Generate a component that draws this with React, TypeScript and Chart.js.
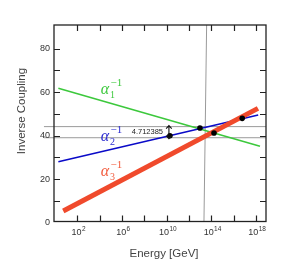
import React, { useEffect, useRef } from 'react';
import { Chart, registerables } from 'chart.js';
Chart.register(...registerables);

// log10(E / GeV) values and inverse couplings
const majorLogTicks = [2, 6, 10, 14, 18];
const minorLogTicks = [2, 4, 6, 8, 10, 12, 14, 16, 18];
const majorCouplingTicks = [0, 20, 40, 60, 80];
const minorCouplingTicks = [10, 20, 30, 40, 50, 60, 70, 80];

const alpha1Log = [0.29, 18.36];
const alpha1Inv = [61.7, 35.1];
const alpha2Log = [0.29, 18.2];
const alpha2Inv = [28.0, 49.4];
const alpha3Log = [0.73, 18.18];
const alpha3Inv = [5.3, 52.5];

const crossLog = [12.98, 14.24, 16.77, 10.29];
const crossInv = [43.5, 41.2, 47.9, 39.9];

const refLineLog = [-1.0, 18.9];
const refLineInv = [44.1, 39.0];
const vLineLog = [13.58, 13.34];
const vLineInv = [90.8, 0.5];

const labelNames = ['1', '2', '3'];
const labelLog = [4.47, 4.47, 4.47];
const labelInv = [60.9, 39.3, 23.3];
const labelColors = ['#3cc83c', '#2a2ad0', '#f25a3c'];

const gapText = '4.712385';
const gapTextLog = 9.67;
const gapTextInv = 41.6;
const gapArrowLog = 10.2;

const X_MIN = -0.1, X_MAX = 18.9, Y_MIN = 0.5, Y_MAX = 90.8;

const pts = (xs: number[], ys: number[]) => xs.map((x, i) => ({ x, y: ys[i] }));

const decor = {
  id: 'decor',
  afterDatasetsDraw(chart: any) {
    const { ctx, chartArea: a, scales } = chart;
    const xs = scales.x, ys = scales.y;
    ctx.save();
    // frame
    ctx.strokeStyle = '#222';
    ctx.lineWidth = 1.3;
    ctx.strokeRect(a.left, a.top, a.right - a.left, a.bottom - a.top);
    // inward ticks
    ctx.lineWidth = 1.2;
    const tl = 6;
    ctx.beginPath();
    minorLogTicks.forEach((v) => {
      const px = Math.round(xs.getPixelForValue(v)) + 0.5;
      ctx.moveTo(px, a.bottom); ctx.lineTo(px, a.bottom - tl);
      ctx.moveTo(px, a.top); ctx.lineTo(px, a.top + tl);
    });
    minorCouplingTicks.forEach((v) => {
      const py = Math.round(ys.getPixelForValue(v)) + 0.5;
      ctx.moveTo(a.left, py); ctx.lineTo(a.left + tl, py);
      ctx.moveTo(a.right, py); ctx.lineTo(a.right - tl, py);
    });
    ctx.stroke();
    // y tick labels
    ctx.fillStyle = '#333';
    ctx.font = '9px "Liberation Sans", Arial, sans-serif';
    ctx.textAlign = 'right';
    ctx.textBaseline = 'middle';
    majorCouplingTicks.forEach((v) => {
      ctx.fillText(String(v), a.left - 4, ys.getPixelForValue(v));
    });
    // x tick labels 10^n
    ctx.textBaseline = 'alphabetic';
    ctx.textAlign = 'left';
    majorLogTicks.forEach((v) => {
      const px = xs.getPixelForValue(v);
      ctx.font = '9px "Liberation Sans", Arial, sans-serif';
      const w1 = ctx.measureText('10').width;
      ctx.font = '6.5px "Liberation Sans", Arial, sans-serif';
      const w2 = ctx.measureText(String(v)).width;
      const x0 = px - (w1 + w2) / 2 + 1;
      const base = a.bottom + 13.5;
      ctx.font = '9px "Liberation Sans", Arial, sans-serif';
      ctx.fillText('10', x0, base);
      ctx.font = '6.5px "Liberation Sans", Arial, sans-serif';
      ctx.fillText(String(v), x0 + w1 + 0.3, base - 4);
    });
    // axis titles
    ctx.fillStyle = '#444';
    ctx.font = '11.5px "Liberation Sans", Arial, sans-serif';
    ctx.textAlign = 'center';
    ctx.textBaseline = 'middle';
    ctx.fillText('Energy [GeV]', (a.left + a.right) / 2 + 4, 254);
    ctx.save();
    ctx.translate(21.5, 111);
    ctx.rotate(-Math.PI / 2);
    ctx.fillText('Inverse Coupling', 0, 0);
    ctx.restore();
    // alpha labels
    labelNames.forEach((n, i) => {
      const px = xs.getPixelForValue(labelLog[i]);
      const py = ys.getPixelForValue(labelInv[i]);
      ctx.fillStyle = labelColors[i];
      ctx.textAlign = 'center';
      ctx.textBaseline = 'middle';
      ctx.font = 'italic 16px "Liberation Serif", "DejaVu Serif", serif';
      ctx.fillText('\u03b1', px, py);
      ctx.textAlign = 'left';
      ctx.font = '11px "Liberation Serif", "DejaVu Serif", serif';
      ctx.fillText('\u22121', px + 5.5, py - 6.5);
      ctx.font = '10px "Liberation Serif", "DejaVu Serif", serif';
      ctx.fillText(n, px + 5, py + 5);
    });
    // gap annotation
    ctx.fillStyle = '#222';
    ctx.font = '7.5px "Liberation Sans", Arial, sans-serif';
    ctx.textAlign = 'right';
    ctx.textBaseline = 'middle';
    ctx.fillText(gapText, xs.getPixelForValue(gapTextLog), ys.getPixelForValue(gapTextInv));
    const ax = xs.getPixelForValue(gapArrowLog);
    const y1 = ys.getPixelForValue(refLineInv[0]) - 1;
    const y2 = ys.getPixelForValue(refLineInv[1]) + 1;
    ctx.strokeStyle = '#111';
    ctx.lineWidth = 1.1;
    ctx.beginPath();
    ctx.moveTo(ax, y1 + 1); ctx.lineTo(ax, y2 - 1);
    ctx.moveTo(ax - 2.8, y1 + 3); ctx.lineTo(ax, y1); ctx.lineTo(ax + 2.8, y1 + 3);
    ctx.moveTo(ax - 2.8, y2 - 3); ctx.lineTo(ax, y2); ctx.lineTo(ax + 2.8, y2 - 3);
    ctx.stroke();
    ctx.restore();
  },
};

export default function App() {
  const ref = useRef<HTMLCanvasElement | null>(null);
  useEffect(() => {
    if (!ref.current) return;
    const chart = new Chart(ref.current, {
      type: 'scatter',
      data: {
        datasets: [
          { data: pts(crossLog, crossInv), showLine: false, pointRadius: 2.8, pointBackgroundColor: '#000', pointBorderWidth: 0, backgroundColor: '#000' },
          { data: pts(alpha3Log, alpha3Inv), showLine: true, borderColor: '#f04a2c', borderWidth: 5, pointRadius: 0 },
          { data: pts(alpha2Log, alpha2Inv), showLine: true, borderColor: '#0a0ac8', borderWidth: 1.6, pointRadius: 0 },
          { data: pts(alpha1Log, alpha1Inv), showLine: true, borderColor: '#3cc83c', borderWidth: 1.6, pointRadius: 0 },
          { data: pts(vLineLog, vLineInv), showLine: true, borderColor: '#9a9a9a', borderWidth: 1, pointRadius: 0 },
          { data: pts(refLineLog, [refLineInv[0], refLineInv[0]]), showLine: true, borderColor: '#9a9a9a', borderWidth: 1, pointRadius: 0, clip: false },
          { data: pts(refLineLog, [refLineInv[1], refLineInv[1]]), showLine: true, borderColor: '#9a9a9a', borderWidth: 1, pointRadius: 0, clip: false },
        ] as any,
      },
      options: {
        animation: false,
        responsive: true,
        maintainAspectRatio: false,
        layout: { padding: { left: 54, right: 28, top: 25, bottom: 58.5 } },
        plugins: { legend: { display: false }, tooltip: { enabled: false } },
        events: [],
        scales: {
          x: { type: 'linear', min: X_MIN, max: X_MAX, display: false },
          y: { type: 'linear', min: Y_MIN, max: Y_MAX, display: false },
        },
      },
      plugins: [decor],
    });
    return () => chart.destroy();
  }, []);
  return (
    <div style={{ position: 'fixed', left: 0, top: 0, width: 294, height: 280, background: '#fff' }}>
      <canvas ref={ref} />
    </div>
  );
}
